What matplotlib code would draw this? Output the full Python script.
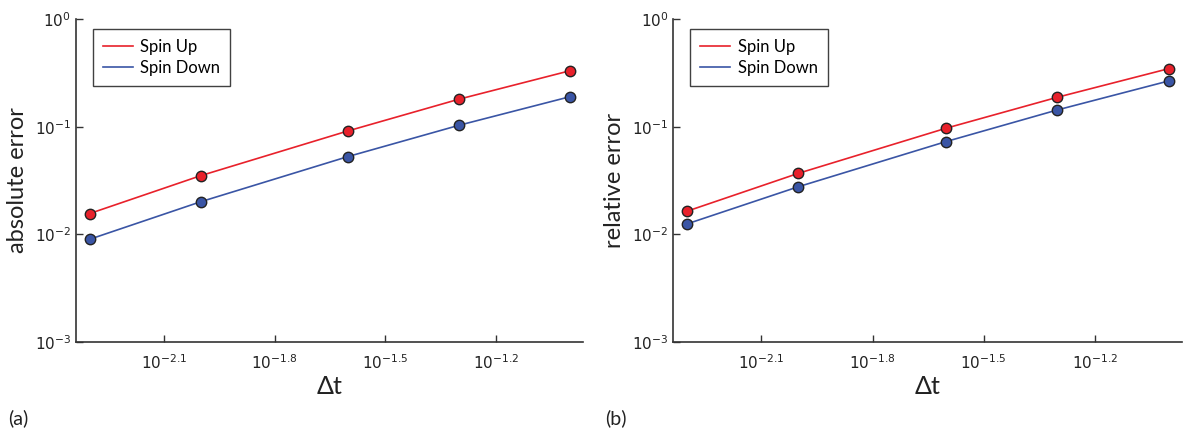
import numpy as np
import matplotlib
matplotlib.use('Agg')
import matplotlib.pyplot as plt
from matplotlib.ticker import FixedLocator, NullLocator

plt.rcParams['font.family'] = ['Lato', 'DejaVu Sans']
plt.rcParams['mathtext.fontset'] = 'dejavusans'

# time steps
dt = [0.005, 0.01, 0.025, 0.05, 0.1]

# (a) absolute error
abs_up = [0.0156, 0.0351, 0.0912, 0.180, 0.331]
abs_down = [0.0090, 0.0201, 0.0527, 0.103, 0.190]

# (b) relative error
rel_up = [0.0164, 0.0369, 0.0966, 0.1875, 0.346]
rel_down = [0.0125, 0.0277, 0.0726, 0.143, 0.266]

xtick_exp = [-2.1, -1.8, -1.5, -1.2]
ytick_exp = [-3, -2, -1, 0]

red = '#e8212b'
blue = '#3a55a5'
dark = '#333333'

fig = plt.figure(figsize=(11.86, 4.32), dpi=100)
ax1 = fig.add_axes([0.0641, 0.2083, 0.4275, 0.7477])
ax2 = fig.add_axes([0.5677, 0.2083, 0.4287, 0.7477])

panels = [(ax1, abs_up, abs_down, 'absolute error', '(a)', 0.007),
          (ax2, rel_up, rel_down, 'relative error', '(b)', 0.51)]

for ax, up, down, ylab, tag, tagx in panels:
    ax.plot(dt, up, '-', color=red, lw=1.2, label='Spin Up')
    ax.plot(dt, down, '-', color=blue, lw=1.2, label='Spin Down')
    ax.plot(dt, up, 'o', color=red, ms=7.5, mec='#222222', mew=1.0)
    ax.plot(dt, down, 'o', color=blue, ms=7.5, mec='#222222', mew=1.0)
    ax.set_xscale('log')
    ax.set_yscale('log')
    ax.set_xlim(10 ** -2.338, 10 ** -0.965)
    ax.set_ylim(1e-3, 1)
    ax.xaxis.set_major_locator(FixedLocator([10 ** e for e in xtick_exp]))
    ax.set_xticklabels([r'$10^{%g}$' % e for e in xtick_exp])
    ax.yaxis.set_major_locator(FixedLocator([10.0 ** e for e in ytick_exp]))
    ax.set_yticklabels([r'$10^{%d}$' % e for e in ytick_exp])
    ax.xaxis.set_minor_locator(NullLocator())
    ax.yaxis.set_minor_locator(NullLocator())
    for s in ['top', 'right']:
        ax.spines[s].set_visible(False)
    for s in ['left', 'bottom']:
        ax.spines[s].set_color(dark)
        ax.spines[s].set_linewidth(1.2)
    ax.tick_params(direction='in', length=5, width=1, colors=dark,
                   labelsize=11, labelcolor='#222222')
    ax.tick_params(axis='x', pad=8)
    ax.set_xlabel('Δt', fontsize=18, color='#222222', labelpad=2)
    ax.set_ylabel(ylab, fontsize=17, color='#222222')
    ax.yaxis.set_label_coords(-0.094, 0.5)
    leg = ax.legend(loc='upper left', bbox_to_anchor=(0.033, 0.969),
                    borderaxespad=0, fontsize=12, fancybox=False,
                    edgecolor='#111111', handlelength=1.8,
                    handletextpad=0.45, borderpad=0.6, labelspacing=0.3)
    leg.get_frame().set_linewidth(1.0)
    fig.text(tagx, 0.017, tag, fontsize=14, color='#222222')

fig.savefig('out.png', dpi=100)
